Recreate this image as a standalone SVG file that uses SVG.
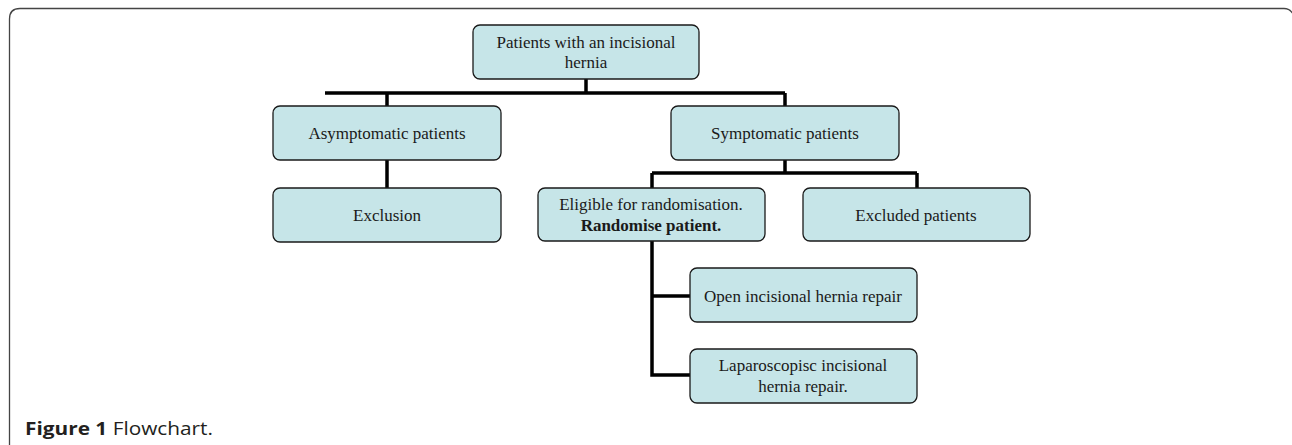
<svg xmlns="http://www.w3.org/2000/svg" width="1292" height="445" viewBox="0 0 1292 445">
<style>
.box{fill:#c6e5e8;stroke:#1a1a1a;stroke-width:1.3}
.t{font-family:"Liberation Serif","Times New Roman",serif;font-size:17px;fill:#1a1a1a;text-anchor:middle}
.b{font-weight:bold}
.c{fill:none;stroke:#000;stroke-width:3.5}
.cap{font-family:"Open Sans","Liberation Sans",Arial,sans-serif;font-size:18px;fill:#231f20}
</style>
<rect width="1292" height="445" fill="#fff"/>
<path d="M9.5,445 V19 Q9.5,8.5 20,8.5 H1284 Q1290,8.5 1293,14" fill="none" stroke="#444" stroke-width="1.3"/>
<g id="connectors">
<path class="c" d="M586,79 V93 M325,93 H785 M387,93 V106 M785,93 V106"/>
<path class="c" d="M387,160 V188"/>
<path class="c" d="M785,159 V173 M652,173 H917 M652,173 V188 M917,173 V188"/>
<path class="c" d="M652,241 V375 H690 M652,296 H690"/>
</g>
<g id="n_top"><rect class="box" x="473" y="25" width="226" height="54" rx="7"/><text class="t" x="586" y="48">Patients with an incisional</text><text class="t" x="586" y="68">hernia</text></g>
<g id="n_asym"><rect class="box" x="273" y="106" width="228" height="54" rx="7"/><text class="t" x="387" y="139">Asymptomatic patients</text></g>
<g id="n_sym"><rect class="box" x="671" y="106" width="228" height="54" rx="7"/><text class="t" x="785" y="139">Symptomatic patients</text></g>
<g id="n_excl"><rect class="box" x="273" y="188" width="228" height="54" rx="7"/><text class="t" x="387" y="221">Exclusion</text></g>
<g id="n_elig"><rect class="box" x="538" y="188" width="227" height="53" rx="7"/><text class="t" x="651" y="210">Eligible for randomisation.</text><text class="t b" x="651" y="231">Randomise patient.</text></g>
<g id="n_excluded"><rect class="box" x="803" y="188" width="227" height="53" rx="7"/><text class="t" x="916" y="221">Excluded patients</text></g>
<g id="n_open"><rect class="box" x="690" y="268" width="227" height="54" rx="7"/><text class="t" x="803" y="302">Open incisional hernia repair</text></g>
<g id="n_lap"><rect class="box" x="690" y="349" width="227" height="54" rx="7"/><text class="t" x="803" y="371">Laparoscopisc incisional</text><text class="t" x="803" y="392">hernia repair.</text></g>
<text class="cap" x="25" y="435" textLength="188" lengthAdjust="spacingAndGlyphs"><tspan font-weight="bold">Figure 1</tspan> Flowchart.</text>
</svg>
